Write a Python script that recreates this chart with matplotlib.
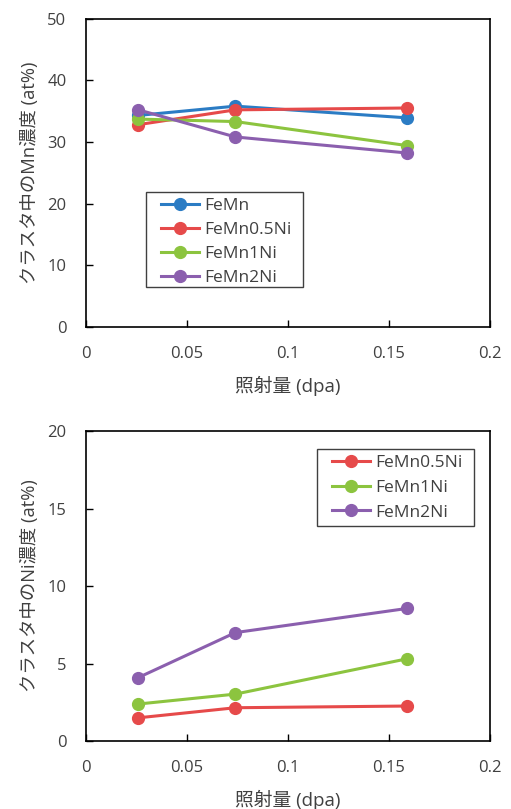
import matplotlib
matplotlib.use('Agg')
import matplotlib.pyplot as plt
from matplotlib.patches import Rectangle

plt.rcParams['font.family'] = ['Open Sans', 'Noto Sans CJK JP', 'DejaVu Sans']

# 照射量 (dpa)
dose = [0.026, 0.074, 0.159]

# クラスタ中のMn濃度 (at%)
mn_femn = [34.3, 35.8, 33.9]
mn_femn05ni = [32.8, 35.2, 35.5]
mn_femn1ni = [33.7, 33.3, 29.4]
mn_femn2ni = [35.2, 30.8, 28.2]

# クラスタ中のNi濃度 (at%)
ni_femn05ni = [1.5, 2.15, 2.26]
ni_femn1ni = [2.39, 3.03, 5.31]
ni_femn2ni = [4.1, 7.0, 8.56]

labels_mn = ['FeMn', 'FeMn0.5Ni', 'FeMn1Ni', 'FeMn2Ni']
labels_ni = ['FeMn0.5Ni', 'FeMn1Ni', 'FeMn2Ni']
xticks = [0, 0.05, 0.1, 0.15, 0.2]
xticklabels = ['0', '0.05', '0.1', '0.15', '0.2']

c_blue = '#2b7cc4'
c_red = '#e64a4a'
c_green = '#8cc43f'
c_purple = '#8b5fae'
txt = '#404040'

fig = plt.figure(figsize=(5.11, 8.09), dpi=100)
ax1 = fig.add_axes([0.168, 0.596, 0.791, 0.381])
ax2 = fig.add_axes([0.168, 0.084, 0.791, 0.383])

kw = dict(lw=2.2, marker='o', ms=8.5)

for y, c, lab in zip([mn_femn, mn_femn05ni, mn_femn1ni, mn_femn2ni],
                     [c_blue, c_red, c_green, c_purple], labels_mn):
    ax1.plot(dose, y, color=c, label=lab, **kw)

for y, c, lab in zip([ni_femn05ni, ni_femn1ni, ni_femn2ni],
                     [c_red, c_green, c_purple], labels_ni):
    ax2.plot(dose, y, color=c, label=lab, **kw)

ax1.set_ylim(0, 50)
ax1.set_yticks([0, 10, 20, 30, 40, 50])
ax2.set_ylim(0, 20)
ax2.set_yticks([0, 5, 10, 15, 20])

for ax, ylab in [(ax1, 'クラスタ中のMn濃度 (at%)'), (ax2, 'クラスタ中のNi濃度 (at%)')]:
    ax.set_xlim(0, 0.2)
    ax.set_xticks(xticks)
    ax.set_xticklabels(xticklabels)
    ax.tick_params(direction='in', length=5, width=1, colors='black',
                   labelcolor=txt, labelsize=12)
    ax.tick_params(axis='x', pad=14)
    ax.tick_params(axis='y', pad=14)
    for s in ax.spines.values():
        s.set_linewidth(1.2)
        s.set_color('black')
    ax.set_xlabel('照射量 (dpa)', fontsize=13.5, color=txt, labelpad=10)
    ax.set_ylabel(ylab, fontsize=13.2, color=txt, labelpad=6)

# legend entries without their own frame; the box is drawn separately
leg_kw = dict(loc='upper left', frameon=False, fontsize=12.5,
              handlelength=2.2, borderpad=0, labelspacing=0.45,
              handletextpad=0.3, borderaxespad=0)
leg1 = ax1.legend(bbox_to_anchor=(0.186, 0.419), **leg_kw)
leg2 = ax2.legend(bbox_to_anchor=(0.609, 0.924), labelspacing=0.5,
                  **{k: v for k, v in leg_kw.items() if k != 'labelspacing'})
for leg in (leg1, leg2):
    for t in leg.get_texts():
        t.set_color(txt)

ax1.add_patch(Rectangle((0.1485, 0.130), 0.3885, 0.308, transform=ax1.transAxes,
                        fill=False, edgecolor=txt, lw=1.0, zorder=5))
ax2.add_patch(Rectangle((0.572, 0.694), 0.388, 0.248, transform=ax2.transAxes,
                        fill=False, edgecolor=txt, lw=1.0, zorder=5))

fig.savefig('out.png', dpi=100)
